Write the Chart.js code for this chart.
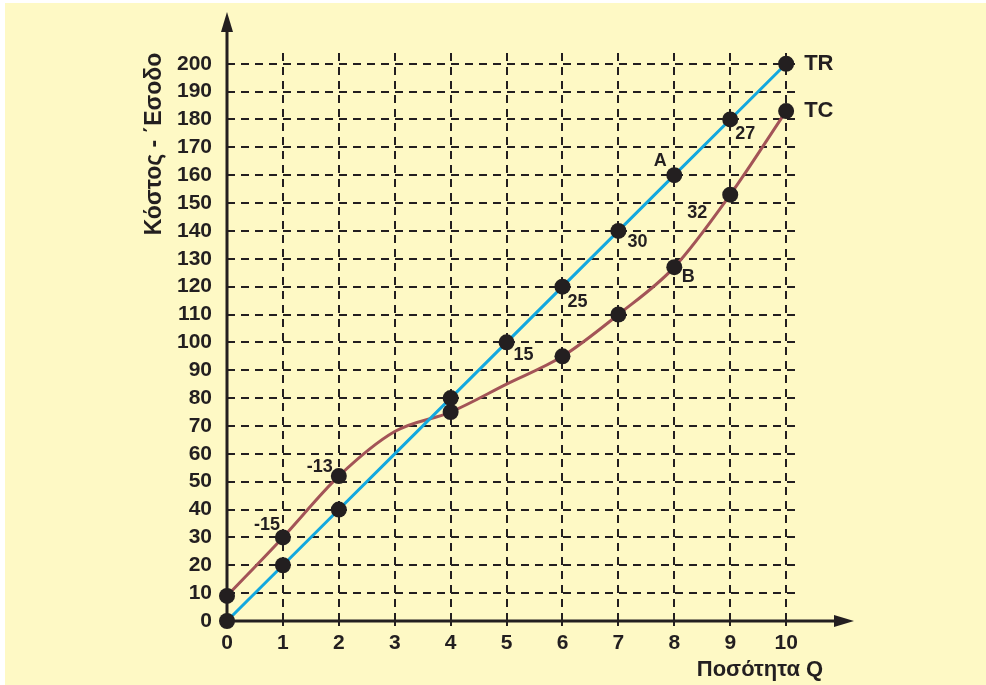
<!DOCTYPE html>
<html>
<head>
<meta charset="utf-8">
<script src="https://cdn.jsdelivr.net/npm/chart.js@4"></script>
<style>
html, body { margin: 0; background: #ffffff; }
canvas { display: block; }
</style>
</head>
<body>
<canvas id="grafico" width="986" height="685"></canvas>
<script>
// dados do grafico
const quantidade = [0, 1, 2, 3, 4, 5, 6, 7, 8, 9, 10];
const trValores = [0, 20, 40, 60, 80, 100, 120, 140, 160, 180, 200];
const trComPonto = [true, true, true, false, true, true, true, true, true, true, true];
const tcValores = [9, 30, 52, 68, 75, 85, 95, 110, 127, 153, 183];
const tcComPonto = [true, true, true, false, true, false, true, true, true, true, true];
const nomesSeries = ['TR', 'TC'];

const xMarcas = [0, 1, 2, 3, 4, 5, 6, 7, 8, 9, 10];
const yMarcas = [0, 10, 20, 30, 40, 50, 60, 70, 80, 90, 100, 110, 120, 130, 140, 150, 160, 170, 180, 190, 200];

const tituloY = 'Κόστος - ΄Εσοδο';
const tituloX = 'Ποσότητα Q';

// notas junto aos pontos
const notasTexto = ['-15', '-13', '15', '25', '30', 'A', '27', '32', 'B'];
const notasQ = [1, 2, 5, 6, 7, 8, 9, 9, 8];
const notasValor = [30, 52, 100, 120, 140, 160, 180, 153, 127];

// deslocamento das notas em pixels (so estilo)
const notasDesloc = [[-16, -12], [-19, -9], [17, 13], [15, 15], [19, 11], [-14, -14], [15, 15], [-33, 18], [14, 10]];

const corTexto = '#231f20';
const fonte = '"Liberation Sans", Arial, sans-serif';
Chart.defaults.font.family = fonte;

const fundoEixos = {
    id: 'fundoEixos',
    beforeDraw(chart) {
        const c = chart.ctx;
        c.save();
        c.fillStyle = '#fef9c5';
        c.fillRect(5, 3, chart.width - 5, chart.height - 3);
        c.restore();
    },
    beforeDatasetsDraw(chart) {
        const c = chart.ctx;
        const sx = chart.scales.x, sy = chart.scales.y;
        const x0 = Math.round(sx.getPixelForValue(0));
        const y0 = Math.round(sy.getPixelForValue(0));
        const xFim = sx.getPixelForValue(10) + 10;
        const yFim = sy.getPixelForValue(200) - 11;
        c.save();
        c.strokeStyle = corTexto;
        c.lineWidth = 2;
        c.setLineDash([8, 6]);
        yMarcas.forEach(v => {
            if (v === 0) return;
            const py = Math.round(sy.getPixelForValue(v));
            c.beginPath();
            c.moveTo(x0, py);
            c.lineTo(xFim, py);
            c.stroke();
        });
        xMarcas.forEach(v => {
            if (v === 0) return;
            const px = Math.round(sx.getPixelForValue(v));
            c.beginPath();
            c.moveTo(px, y0);
            c.lineTo(px, yFim);
            c.stroke();
        });
        c.setLineDash([]);
        // pequenas marcas no eixo x
        xMarcas.forEach(v => {
            if (v === 0) return;
            const px = Math.round(sx.getPixelForValue(v));
            c.beginPath();
            c.moveTo(px, y0 - 6);
            c.lineTo(px, y0 + 5);
            c.stroke();
        });
        // eixos com setas
        const topo = chart.chartArea.top + 4;
        const direita = chart.chartArea.right - 16;
        c.lineWidth = 3;
        c.beginPath();
        c.moveTo(x0, y0);
        c.lineTo(x0, topo + 18);
        c.moveTo(x0, y0);
        c.lineTo(direita - 18, y0);
        c.stroke();
        c.fillStyle = corTexto;
        c.beginPath();
        c.moveTo(x0, topo);
        c.lineTo(x0 - 6, topo + 20);
        c.lineTo(x0 + 6, topo + 20);
        c.closePath();
        c.fill();
        c.beginPath();
        c.moveTo(direita, y0);
        c.lineTo(direita - 20, y0 - 6);
        c.lineTo(direita - 20, y0 + 6);
        c.closePath();
        c.fill();
        c.restore();
    },
    afterDatasetsDraw(chart) {
        const c = chart.ctx;
        const sx = chart.scales.x, sy = chart.scales.y;
        c.save();
        c.fillStyle = corTexto;
        c.textAlign = 'center';
        c.textBaseline = 'middle';
        c.font = 'bold 18px ' + fonte;
        notasTexto.forEach((t, i) => {
            const px = sx.getPixelForValue(notasQ[i]) + notasDesloc[i][0];
            const py = sy.getPixelForValue(notasValor[i]) + notasDesloc[i][1];
            c.fillText(t, px, py);
        });
        // nomes das curvas
        c.font = 'bold 22px ' + fonte;
        c.textAlign = 'left';
        c.fillText(nomesSeries[0], sx.getPixelForValue(10) + 18, sy.getPixelForValue(trValores[10]));
        c.fillText(nomesSeries[1], sx.getPixelForValue(10) + 18, sy.getPixelForValue(tcValores[10]));
        // titulos dos eixos
        c.textAlign = 'center';
        c.fillText(tituloX, 760, 670);
        c.font = 'bold 23px ' + fonte;
        c.translate(155, 144);
        c.rotate(-Math.PI / 2);
        c.fillText(tituloY, 0, 0);
        c.restore();
    }
};

const ctx = document.getElementById('grafico').getContext('2d');

const meuGrafico = new Chart(ctx, {
    type: 'line',
    data: {
        datasets: [{
            label: nomesSeries[0],
            data: quantidade.map((q, i) => ({ x: q, y: trValores[i] })),
            borderColor: '#13a8df',
            borderWidth: 3,
            pointRadius: trComPonto.map(p => p ? 8 : 0),
            pointBackgroundColor: corTexto,
            pointBorderWidth: 0,
            tension: 0
        }, {
            label: nomesSeries[1],
            data: quantidade.map((q, i) => ({ x: q, y: tcValores[i] })),
            borderColor: '#a35457',
            borderWidth: 3,
            pointRadius: tcComPonto.map(p => p ? 8 : 0),
            pointBackgroundColor: corTexto,
            pointBorderWidth: 0,
            cubicInterpolationMode: 'monotone'
        }]
    },
    options: {
        responsive: false,
        animation: false,
        clip: false,
        layout: { padding: { top: 5, right: 116, bottom: 0, left: 0 } },
        plugins: {
            legend: { display: false },
            tooltip: { enabled: false }
        },
        scales: {
            x: {
                type: 'linear',
                min: 0,
                max: 11.5,
                afterFit(s) { s.height = 64; s.paddingLeft = 0; s.paddingRight = 0; },
                afterBuildTicks(s) { s.ticks = xMarcas.map(v => ({ value: v })); },
                grid: { display: false, drawTicks: false },
                border: { display: false },
                ticks: {
                    padding: 10,
                    color: corTexto,
                    maxRotation: 0,
                    autoSkip: false,
                    font: { size: 21, weight: 'bold' }
                }
            },
            y: {
                type: 'linear',
                min: 0,
                max: 220,
                afterFit(s) { s.width = 227; s.paddingTop = 0; s.paddingBottom = 0; },
                afterBuildTicks(s) { s.ticks = yMarcas.map(v => ({ value: v })); },
                grid: { display: false, drawTicks: false },
                border: { display: false },
                ticks: {
                    padding: 15,
                    color: corTexto,
                    autoSkip: false,
                    font: { size: 21, weight: 'bold' }
                }
            }
        }
    },
    plugins: [fundoEixos]
});
</script>
</body>
</html>
